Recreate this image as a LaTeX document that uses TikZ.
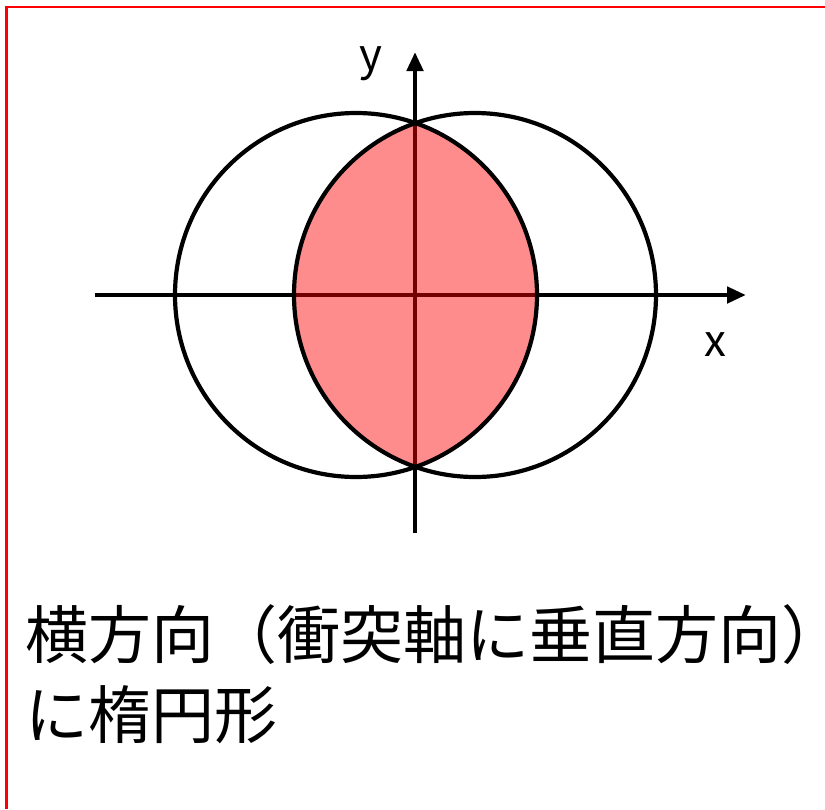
\documentclass[tikz,border=0pt]{standalone}
\usepackage{fontspec}
\newfontfamily\jp{Noto Sans CJK JP}
\usetikzlibrary{arrows.meta}
\begin{document}
\begin{tikzpicture}[x=1pt,y=-1pt,
  axis/.style={line width=4.6pt,-{Triangle[length=19pt,width=16pt]}},
  ring/.style={line width=4.2pt,draw=black},
  lens/.style={fill=red,fill opacity=0.45},
  lbl/.style={font=\jp\fontsize{44}{44}\selectfont,inner sep=0pt},
  caption/.style={font=\jp\fontsize{63}{80}\selectfont,inner sep=0pt,anchor=base west}]
\useasboundingbox (0,0) rectangle (825,809);
\draw[red,line width=2.6pt] (6.5,809) -- (6.5,7) -- (825,7);
% axes
\coordinate (xs) at (95,295);
\coordinate (xe) at (746,295);
\coordinate (ys) at (415,533);
\coordinate (ye) at (415,52);
\draw[axis] (xs) -- (xe);
\draw[axis] (ys) -- (ye);
% lens
\coordinate (cl) at (356,295);
\coordinate (cr) at (475,295);
\begin{scope}
  \clip (cl) ellipse [x radius=181, y radius=182];
  \fill[lens] (cr) ellipse [x radius=181, y radius=182];
\end{scope}
\draw[ring] (cl) ellipse [x radius=181, y radius=182];
\draw[ring] (cr) ellipse [x radius=181, y radius=182];
\node[lbl] (ylab) at (371,64) {y};
\node[lbl] (xlab) at (715,345) {x};
\node[caption] (cap1) at (25,658) {横方向（衝突軸に垂直方向）\kern-0.8em};
\node[caption] (cap2) at (25,738) {に楕円形};
\end{tikzpicture}
\end{document}
